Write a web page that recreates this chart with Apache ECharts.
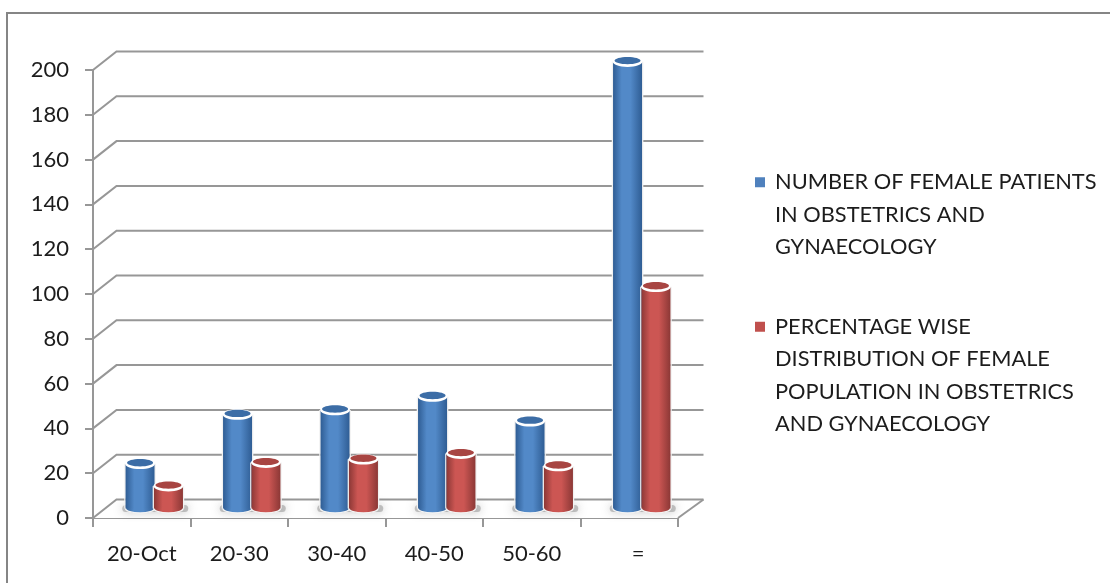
<!DOCTYPE html>
<html><head><meta charset="utf-8">
<style>html,body{margin:0;padding:0;background:#fff;overflow:hidden}#c{width:1110px;height:583px;filter:blur(0.45px)}</style>
<script src="https://cdn.jsdelivr.net/npm/echarts@6/dist/echarts.min.js"></script>
</head><body><div id="c"></div>
<script>
const categories = ['20-Oct','20-30','30-40','40-50','50-60','='];
const femalePatients = [20,42,44,50,39,199.5];
const femalePercentage = [10,20.5,22,24.5,19,99];
const yTicks = [0,20,40,60,80,100,120,140,160,180,200];
const nameA = 'NUMBER OF FEMALE PATIENTS IN OBSTETRICS AND GYNAECOLOGY';
const nameB = 'PERCENTAGE WISE DISTRIBUTION OF FEMALE POPULATION IN OBSTETRICS AND GYNAECOLOGY';
const linesA = ['NUMBER OF FEMALE PATIENTS','IN OBSTETRICS AND','GYNAECOLOGY'];
const linesB = ['PERCENTAGE WISE','DISTRIBUTION OF FEMALE','POPULATION IN OBSTETRICS','AND GYNAECOLOGY'];

const DX = 23.5, DY = 18.5, MIDX = 12.5, MIDY = 9.5, W = 29, RY = 4.5;
const GREY = '#979797';
const font = 'Lato';
const INK = '#1c1c1c';

function wall(params, api){
  const cs = params.coordSys, y = api.coord([0, api.value(1)])[1];
  const x0 = cs.x, x1 = cs.x + cs.width;
  const kids = [{type:'polyline',shape:{points:[[x0,y],[x0+DX,y-DY],[x1+DX+2,y-DY]]},style:{fill:null,stroke:GREY,lineWidth:2}}];
  if (api.value(1) === 0) {
    kids.unshift({type:'polygon',shape:{points:[[x0,y],[x0+DX,y-DY],[x1+DX+2,y-DY],[x1,y]]},style:{fill:'#fff'}});
    kids.push({type:'line',shape:{x1:x1,y1:y,x2:x1+DX+2,y2:y-DY},style:{stroke:GREY,lineWidth:2}});
  }
  return {type:'group',children:kids};
}
function floorShadow(params, api){
  const p = api.coord([api.value(0), 0]);
  return {type:'rect',shape:{x:p[0]+MIDX-32,y:p[1]-MIDY-3.5,width:66,height:7,r:3.5},
    style:{fill:'rgba(150,150,150,.55)',shadowBlur:10,shadowColor:'rgba(120,120,120,.8)'}};
}
function cylinder(sign, edge, mid, cap){
  return function(params, api){
    const idx = api.value(0), top = api.coord([idx, api.value(1)]), base = api.coord([idx, 0]);
    const cx = top[0] + MIDX + sign*14.2, yt = top[1]-MIDY, yb = base[1]-MIDY, rx = W/2;
    const grad = {type:'linear',x:0,y:0,x2:1,y2:0,colorStops:[{offset:0,color:edge},{offset:.3,color:mid},{offset:.6,color:mid},{offset:1,color:edge}]};
    const halo = {stroke:'#f1f1f1',lineWidth:1.4};
    return {type:'group',children:[
      {type:'ellipse',shape:{cx:cx,cy:yb,rx:rx,ry:RY},style:{fill:grad,stroke:'#f4f4f4',lineWidth:1.4}},
      {type:'line',shape:{x1:cx-rx-.6,y1:yt,x2:cx-rx-.6,y2:yb},style:halo},
      {type:'line',shape:{x1:cx+rx+.6,y1:yt,x2:cx+rx+.6,y2:yb},style:halo},
      {type:'rect',shape:{x:cx-rx,y:yt,width:W,height:yb-yt},style:{fill:grad}},
      {type:'ellipse',shape:{cx:cx,cy:yt,rx:rx+.5,ry:RY+.8},style:{fill:'#fff'}},
      {type:'ellipse',shape:{cx:cx,cy:yt-1,rx:rx-1.5,ry:RY-.8},style:{fill:cap}}
    ]};
  };
}
const chart = echarts.init(document.getElementById('c'),null,{renderer:'canvas'});
chart.setOption({
  animation:false,
  backgroundColor:'#fff',
  textStyle:{fontFamily:font},
  graphic:[{type:'rect',z:-1,silent:true,shape:{x:7,y:13,width:1130,height:600},style:{fill:'none',stroke:'#858585',lineWidth:2}}],
  grid:{left:93,right:432,top:70,bottom:65},
  xAxis:{type:'category',data:categories,
    axisLine:{lineStyle:{color:GREY,width:2}},axisTick:{show:true,length:9,lineStyle:{color:GREY,width:2}},
    axisLabel:{color:INK,fontSize:22,fontFamily:font,margin:25,
      formatter:v=>v==='='?'{off|=}':v,
      rich:{off:{padding:[0,0,0,18],fontSize:22,color:INK,fontFamily:font}}},splitLine:{show:false}},
  yAxis:{type:'value',min:0,max:200,interval:20,
    axisLine:{show:true,lineStyle:{color:GREY,width:2}},axisTick:{show:true,length:8,lineStyle:{color:GREY,width:2}},
    axisLabel:{color:INK,fontSize:22,fontFamily:font,margin:24},splitLine:{show:false}},
  legend:[
   {data:[nameA],orient:'vertical',left:750,top:96,itemWidth:10,itemHeight:10,icon:'rect',itemGap:0,
    formatter:()=>'\n\n'+linesA.join('\n'),textStyle:{fontSize:21.8,lineHeight:32.5,color:INK,fontFamily:font,padding:[0,0,0,5]},selectedMode:false},
   {data:[nameB],orient:'vertical',left:750,top:208,itemWidth:10,itemHeight:10,icon:'rect',itemGap:0,
    formatter:()=>'\n\n\n'+linesB.join('\n'),textStyle:{fontSize:21.8,lineHeight:32.5,color:INK,fontFamily:font,padding:[0,0,0,5]},selectedMode:false}
  ],
  series:[
   {type:'custom',name:'walls',silent:true,z:1,renderItem:wall,data:yTicks.map(v=>[0,v]),encode:{x:0,y:1}},
   {type:'custom',name:'shadow',silent:true,z:2,renderItem:floorShadow,data:categories.map((c,i)=>[i,0]),encode:{x:0,y:1}},
   {type:'custom',name:nameA,z:3,itemStyle:{color:'#4F81BD'},renderItem:cylinder(-1,'#2f5d94','#5289c8','#3c6da6'),
     data:femalePatients.map((v,i)=>[i,v]),encode:{x:0,y:1}},
   {type:'custom',name:nameB,z:4,itemStyle:{color:'#C0504D'},renderItem:cylinder(1,'#8c3836','#cc5653','#a84542'),
     data:femalePercentage.map((v,i)=>[i,v]),encode:{x:0,y:1}}
  ]
});
</script></body></html>
